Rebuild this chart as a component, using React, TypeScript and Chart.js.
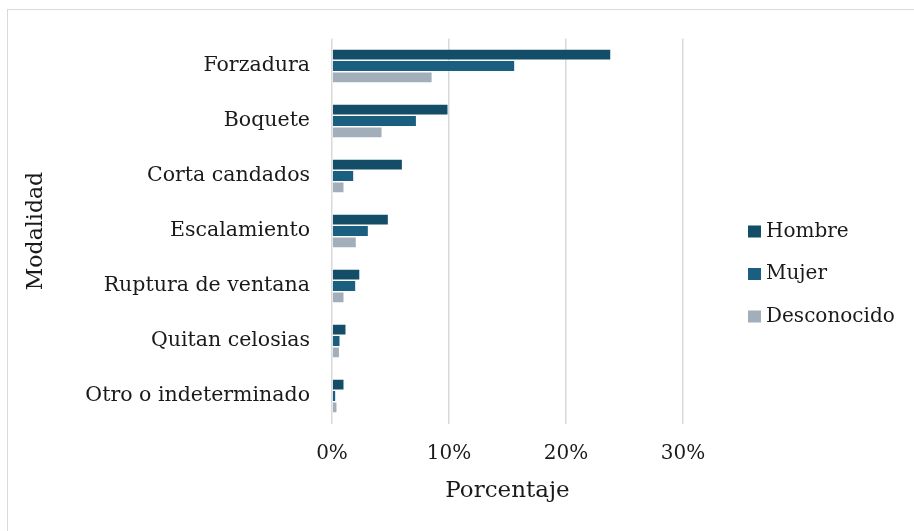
import React, { useEffect, useRef } from "react";
import { Chart, registerables } from "chart.js";

Chart.register(...registerables);

const categories = [
  "Forzadura",
  "Boquete",
  "Corta candados",
  "Escalamiento",
  "Ruptura de ventana",
  "Quitan celosias",
  "Otro o indeterminado",
];
const hombre = [23.85, 9.94, 6.04, 4.84, 2.4, 1.22, 1.05];
const mujer = [15.64, 7.24, 1.88, 3.13, 2.05, 0.71, 0.34];
const desconocido = [8.58, 4.3, 1.05, 2.1, 1.05, 0.66, 0.45];
const seriesNames = ["Hombre", "Mujer", "Desconocido"];
const xMax = 30;
const xStep = 10;
const xTitle = "Porcentaje";
const yTitle = "Modalidad";

const FONT = "'DejaVu Serif', serif";
const TEXT = "#1a1a1a";

const PAD = { left: 19, right: 231, top: 38.5, bottom: 26 };

const sideLegend = {
  id: "sideLegend",
  afterDraw(chart: any) {
    const ctx = chart.ctx;
    const ds = chart.data.datasets;
    const x = 748;
    const gap = 42.5;
    const cy = 274;
    const y0 = cy - ((ds.length - 1) * gap) / 2;
    ctx.save();
    ctx.font = `20px ${FONT}`;
    ctx.textBaseline = "middle";
    ctx.textAlign = "left";
    ds.forEach((d: any, i: number) => {
      const y = y0 + i * gap;
      ctx.fillStyle = d.backgroundColor;
      ctx.fillRect(x, y - 6, 13, 12);
      ctx.fillStyle = TEXT;
      ctx.fillText(d.label, x + 18, y);
    });
    ctx.restore();
  },
};

export default function App() {
  const ref = useRef<HTMLCanvasElement | null>(null);
  useEffect(() => {
    if (!ref.current) return;
    const chart = new Chart(ref.current, {
      type: "bar",
      data: {
        labels: categories,
        datasets: [
          { label: seriesNames[0], data: hombre, backgroundColor: "#134D67" },
          { label: seriesNames[1], data: mujer, backgroundColor: "#1A5F7F" },
          { label: seriesNames[2], data: desconocido, backgroundColor: "#A2AEB9" },
        ].map((d) => ({
          ...d,
          borderColor: "rgba(255,255,255,0.35)",
          borderWidth: 0.8,
          barPercentage: 1,
          categoryPercentage: 0.62,
        })),
      },
      plugins: [sideLegend],
      options: {
        indexAxis: "y",
        responsive: false,
        animation: false,
        layout: { padding: PAD },
        plugins: {
          legend: { display: false },
          tooltip: { enabled: false },
        },
        scales: {
          x: {
            min: 0,
            max: xMax,
            ticks: {
              stepSize: xStep,
              callback: (v: any) => v + "%",
              font: { family: FONT, size: 20 },
              color: TEXT,
              padding: 18,
            },
            grid: { color: "#D9D9D9", lineWidth: 1.5, drawTicks: false },
            border: { display: false },
            title: {
              display: true,
              text: xTitle,
              font: { family: FONT, size: 23 },
              color: TEXT,
              padding: { top: 4, bottom: 0 },
            },
            afterFit: (s: any) => {
              s.height = 531 - PAD.bottom - 423.5;
            },
          },
          y: {
            ticks: {
              font: { family: FONT, size: 20.5 },
              color: TEXT,
              padding: 22,
            },
            grid: { display: false, drawTicks: false },
            border: { display: false },
            title: {
              display: true,
              text: yTitle,
              font: { family: FONT, size: 22 },
              color: TEXT,
              padding: { top: 4, bottom: 4 },
            },
            afterFit: (s: any) => {
              s.width = 332 - PAD.left;
            },
          },
        },
      },
    });
    return () => chart.destroy();
  }, []);
  return (
    <div style={{ position: "fixed", left: 0, top: 0, width: 914, height: 531, overflow: "hidden", background: "#fff" }}>
      <div
        style={{
          position: "absolute",
          left: 7,
          top: 9,
          width: 1000,
          height: 1000,
          borderLeft: "1px solid #D9D9D9",
          borderTop: "1px solid #D9D9D9",
        }}
      />
      <canvas ref={ref} width={914} height={531} style={{ position: "absolute", left: 0, top: 0 }} />
    </div>
  );
}
